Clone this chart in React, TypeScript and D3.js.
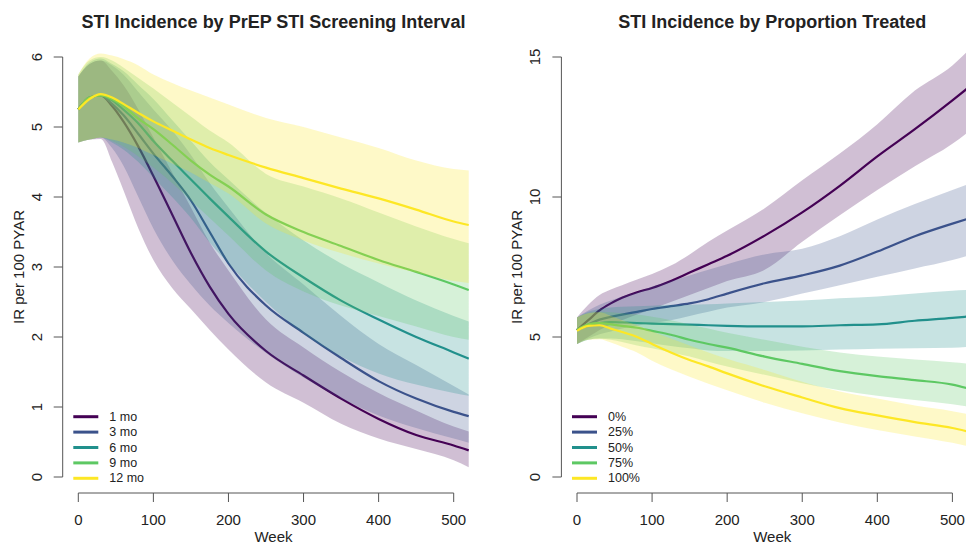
import * as d3 from 'd3';

const weeks = [0, 15, 30, 45, 60, 80, 100, 125, 150, 175, 200, 250, 300, 350, 400, 450, 500, 520];

const colors = ['#440154', '#3B528B', '#21908C', '#5DC863', '#FDE725'];
const intervalLabels = ['1 mo', '3 mo', '6 mo', '9 mo', '12 mo'];
const treatedLabels = ['0%', '25%', '50%', '75%', '100%'];

// left panel: screening interval
const mean1mo = [5.25, 5.42, 5.45, 5.3, 5.08, 4.72, 4.3, 3.75, 3.2, 2.72, 2.33, 1.8, 1.45, 1.12, 0.83, 0.6, 0.45, 0.38];
const low1mo = [4.78, 4.82, 4.83, 4.5, 4.1, 3.55, 3.1, 2.7, 2.4, 2.1, 1.82, 1.35, 1.06, 0.76, 0.55, 0.4, 0.24, 0.14];
const high1mo = [5.72, 5.9, 5.95, 5.8, 5.6, 5.25, 4.85, 4.35, 3.85, 3.35, 2.95, 2.25, 1.85, 1.5, 1.2, 0.95, 0.72, 0.65];

const mean3mo = [5.25, 5.42, 5.45, 5.33, 5.17, 4.9, 4.62, 4.3, 3.95, 3.5, 3.05, 2.45, 2.06, 1.7, 1.37, 1.12, 0.93, 0.87];
const low3mo = [4.78, 4.82, 4.85, 4.7, 4.45, 4.0, 3.55, 3.1, 2.75, 2.45, 2.2, 1.77, 1.42, 1.12, 0.88, 0.7, 0.55, 0.49];
const high3mo = [5.72, 5.9, 5.95, 5.88, 5.75, 5.5, 5.25, 4.95, 4.6, 4.2, 3.85, 3.2, 2.75, 2.3, 1.9, 1.6, 1.3, 1.18];

const mean6mo = [5.25, 5.42, 5.45, 5.38, 5.25, 5.05, 4.8, 4.52, 4.25, 3.98, 3.72, 3.22, 2.85, 2.52, 2.25, 2.0, 1.78, 1.69];
const low6mo = [4.78, 4.82, 4.85, 4.78, 4.68, 4.5, 4.28, 4.0, 3.7, 3.35, 3.05, 2.5, 2.05, 1.72, 1.48, 1.32, 1.2, 1.16];
const high6mo = [5.72, 5.92, 5.98, 5.9, 5.8, 5.6, 5.4, 5.1, 4.8, 4.5, 4.25, 3.77, 3.38, 3.05, 2.78, 2.52, 2.3, 2.22];

const mean9mo = [5.25, 5.42, 5.45, 5.4, 5.3, 5.12, 4.97, 4.75, 4.52, 4.32, 4.15, 3.75, 3.5, 3.3, 3.1, 2.93, 2.75, 2.67];
const low9mo = [4.78, 4.82, 4.85, 4.8, 4.72, 4.58, 4.42, 4.2, 3.95, 3.7, 3.45, 2.95, 2.65, 2.45, 2.3, 2.15, 2.0, 1.96];
const high9mo = [5.75, 5.95, 6.0, 5.95, 5.85, 5.7, 5.55, 5.35, 5.15, 4.95, 4.78, 4.33, 4.15, 3.98, 3.78, 3.58, 3.4, 3.34];

const mean12mo = [5.25, 5.4, 5.47, 5.42, 5.33, 5.2, 5.08, 4.95, 4.82, 4.7, 4.6, 4.42, 4.27, 4.12, 3.98, 3.82, 3.65, 3.6];
const low12mo = [4.78, 4.82, 4.85, 4.82, 4.78, 4.7, 4.6, 4.48, 4.35, 4.2, 4.05, 3.62, 3.38, 3.2, 3.05, 2.92, 2.8, 2.77];
const high12mo = [5.75, 5.98, 6.05, 6.02, 5.97, 5.88, 5.75, 5.63, 5.52, 5.42, 5.32, 5.13, 5.0, 4.85, 4.7, 4.52, 4.4, 4.38];

// right panel: proportion treated
const mean0 = [5.25, 5.6, 5.95, 6.2, 6.4, 6.6, 6.75, 7.0, 7.3, 7.6, 7.9, 8.62, 9.45, 10.4, 11.45, 12.42, 13.45, 13.88];
const low0 = [4.75, 5.0, 5.25, 5.45, 5.6, 5.8, 6.0, 6.25, 6.5, 6.75, 7.0, 7.4, 8.4, 9.35, 10.25, 11.1, 11.9, 12.3];
const high0 = [5.7, 6.15, 6.5, 6.7, 6.85, 7.05, 7.25, 7.55, 7.95, 8.4, 8.8, 9.6, 10.6, 11.55, 12.6, 13.8, 14.7, 15.2];

const mean25 = [5.25, 5.45, 5.62, 5.72, 5.8, 5.9, 6.0, 6.1, 6.2, 6.35, 6.55, 6.92, 7.2, 7.55, 8.05, 8.6, 9.05, 9.22];
const low25 = [4.75, 4.95, 5.1, 5.2, 5.3, 5.4, 5.5, 5.6, 5.75, 5.9, 6.05, 6.25, 6.55, 6.85, 7.15, 7.45, 7.75, 7.9];
const high25 = [5.7, 5.95, 6.15, 6.3, 6.45, 6.6, 6.8, 7.0, 7.2, 7.4, 7.6, 7.95, 8.15, 8.6, 9.2, 9.75, 10.25, 10.45];

const mean50 = [5.25, 5.4, 5.5, 5.53, 5.52, 5.5, 5.48, 5.46, 5.44, 5.42, 5.4, 5.38, 5.38, 5.42, 5.45, 5.58, 5.68, 5.73];
const low50 = [4.75, 4.9, 4.95, 4.95, 4.92, 4.85, 4.78, 4.68, 4.6, 4.52, 4.5, 4.5, 4.52, 4.55, 4.58, 4.6, 4.62, 4.65];
const high50 = [5.7, 5.9, 6.0, 6.05, 6.08, 6.1, 6.12, 6.14, 6.15, 6.17, 6.2, 6.25, 6.3, 6.38, 6.45, 6.55, 6.65, 6.68];

const mean75 = [5.25, 5.45, 5.5, 5.45, 5.4, 5.33, 5.22, 5.08, 4.9, 4.75, 4.62, 4.3, 4.04, 3.78, 3.6, 3.46, 3.3, 3.17];
const low75 = [4.75, 4.9, 4.95, 4.9, 4.82, 4.7, 4.6, 4.45, 4.3, 4.12, 3.95, 3.65, 3.35, 3.1, 2.9, 2.75, 2.6, 2.52];
const high75 = [5.7, 5.85, 5.9, 5.88, 5.85, 5.8, 5.72, 5.6, 5.45, 5.3, 5.15, 4.9, 4.65, 4.45, 4.3, 4.2, 4.1, 4.05];

const mean100 = [5.22, 5.4, 5.42, 5.3, 5.18, 5.0, 4.75, 4.45, 4.18, 3.95, 3.7, 3.24, 2.84, 2.46, 2.2, 1.96, 1.75, 1.63];
const low100 = [4.75, 4.9, 4.92, 4.8, 4.65, 4.45, 4.15, 3.85, 3.58, 3.33, 3.1, 2.65, 2.28, 1.95, 1.68, 1.45, 1.22, 1.1];
const high100 = [5.7, 5.85, 5.88, 5.75, 5.6, 5.42, 5.2, 4.95, 4.7, 4.45, 4.22, 3.82, 3.4, 3.05, 2.8, 2.55, 2.35, 2.25];

const xTicks = [0, 100, 200, 300, 400, 500];
const leftYTicks = [0, 1, 2, 3, 4, 5, 6];
const rightYTicks = [0, 5, 10, 15];

const leftSeries = [
  { mean: mean1mo, low: low1mo, high: high1mo },
  { mean: mean3mo, low: low3mo, high: high3mo },
  { mean: mean6mo, low: low6mo, high: high6mo },
  { mean: mean9mo, low: low9mo, high: high9mo },
  { mean: mean12mo, low: low12mo, high: high12mo },
];
const rightSeries = [
  { mean: mean0, low: low0, high: high0 },
  { mean: mean25, low: low25, high: high25 },
  { mean: mean50, low: low50, high: high50 },
  { mean: mean75, low: low75, high: high75 },
  { mean: mean100, low: low100, high: high100 },
];

const font = 'Liberation Sans, Arial, Helvetica, sans-serif';
const axisColor = '#555';
const textColor = '#222';

function Panel({ title, x0, yMax, yTicks, series, labels }) {
  const x = d3.scaleLinear().domain([0, 500]).range([x0, x0 + 375.4]);
  const y = d3.scaleLinear().domain([0, yMax]).range([477, 57]);
  const idx = weeks.map((_, i) => i);
  const axisX = x0 - 15.6;
  const axisY = 493;
  // centre of the plot region (data runs to week 520)
  const midX = x(260);

  return (
    <g>
      <text x={midX} y={28} textAnchor="middle" fontSize={18} fontWeight="bold" fill={textColor}>
        {title}
      </text>

      {series.map((s, k) => {
        const band = d3.area<number>()
          .x(i => x(weeks[i]))
          .y0(i => y(s.low[i]))
          .y1(i => y(s.high[i]))
          .curve(d3.curveMonotoneX);
        const line = d3.line<number>()
          .x(i => x(weeks[i]))
          .y(i => y(s.mean[i]))
          .curve(d3.curveMonotoneX);
        return (
          <g key={k}>
            <path d={band(idx)} fill={colors[k]} fillOpacity={0.25} stroke="none" />
            <path d={line(idx)} fill="none" stroke={colors[k]} strokeWidth={2.2} />
          </g>
        );
      })}

      {/* y axis */}
      <line x1={axisX} x2={axisX} y1={y(yTicks[0])} y2={y(yTicks[yTicks.length - 1])} stroke={axisColor} />
      {yTicks.map(t => (
        <g key={t}>
          <line x1={axisX - 9} x2={axisX} y1={y(t)} y2={y(t)} stroke={axisColor} />
          <text transform={`translate(${axisX - 21},${y(t)}) rotate(-90)`} textAnchor="middle" fontSize={15} fill={textColor}>
            {t}
          </text>
        </g>
      ))}
      <text transform={`translate(${axisX - 39},267) rotate(-90)`} textAnchor="middle" fontSize={15} fill={textColor}>
        IR per 100 PYAR
      </text>

      {/* x axis */}
      <line x1={x(0)} x2={x(500)} y1={axisY} y2={axisY} stroke={axisColor} />
      {xTicks.map(t => (
        <g key={t}>
          <line x1={x(t)} x2={x(t)} y1={axisY} y2={axisY + 9} stroke={axisColor} />
          <text x={x(t)} y={525} textAnchor="middle" fontSize={15} fill={textColor}>{t}</text>
        </g>
      ))}
      <text x={midX} y={542} textAnchor="middle" fontSize={15} fill={textColor}>Week</text>

      {/* legend */}
      {labels.map((lab, k) => {
        const ly = 416.7 + k * 15.4;
        return (
          <g key={lab}>
            <line x1={x0 - 5} x2={x0 + 20} y1={ly} y2={ly} stroke={colors[k]} strokeWidth={3} />
            <text x={x0 + 31} y={ly} dominantBaseline="central" fontSize={12.5} fill={textColor}>{lab}</text>
          </g>
        );
      })}
    </g>
  );
}

export default function App() {
  return (
    <svg width={966} height={546} style={{ position: 'absolute', left: 0, top: 0, background: '#fff' }} fontFamily={font}>
      <rect width={966} height={546} fill="#fff" />
      <Panel title="STI Incidence by PrEP STI Screening Interval" x0={78.3} yMax={6} yTicks={leftYTicks} series={leftSeries} labels={intervalLabels} />
      <Panel title="STI Incidence by Proportion Treated" x0={577} yMax={15} yTicks={rightYTicks} series={rightSeries} labels={treatedLabels} />
    </svg>
  );
}
